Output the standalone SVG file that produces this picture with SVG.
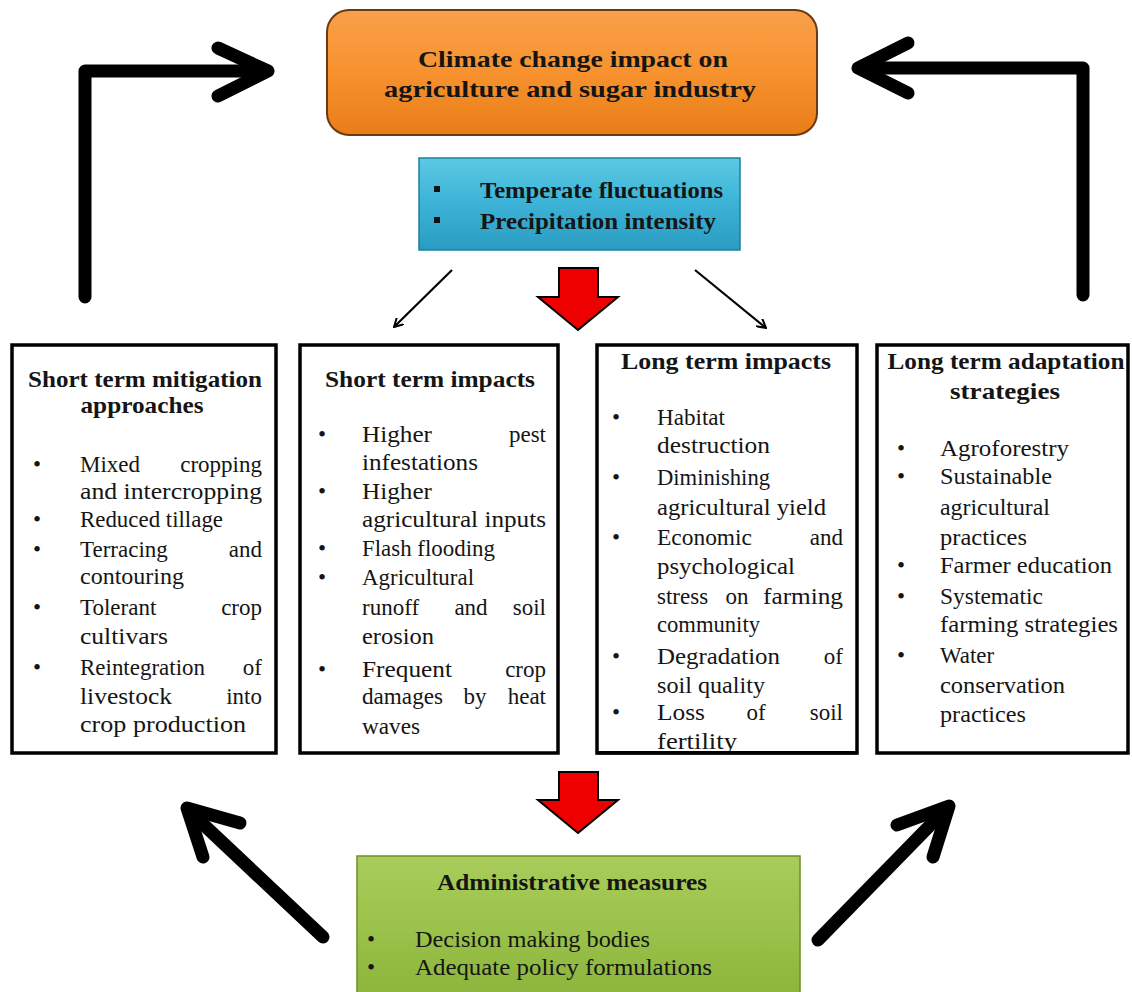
<svg xmlns="http://www.w3.org/2000/svg" width="1132" height="992" viewBox="0 0 1132 992">
<defs>
<linearGradient id="gOr" x1="0" y1="0" x2="0" y2="1">
<stop offset="0" stop-color="#f9a04a"/><stop offset="0.5" stop-color="#f7922e"/><stop offset="1" stop-color="#e87d18"/>
</linearGradient>
<linearGradient id="gBl" x1="0" y1="0" x2="0" y2="1">
<stop offset="0" stop-color="#5cc9e4"/><stop offset="0.5" stop-color="#3bb3d6"/><stop offset="1" stop-color="#2a9cc2"/>
</linearGradient>
<linearGradient id="gGr" x1="0" y1="0" x2="0" y2="1">
<stop offset="0" stop-color="#a9cc5a"/><stop offset="0.5" stop-color="#9bc24a"/><stop offset="1" stop-color="#8ab43b"/>
</linearGradient>
<marker id="thin" markerWidth="10" markerHeight="10" refX="9" refY="5" orient="auto" markerUnits="userSpaceOnUse">
<path d="M0,0 L9,5 L0,10" fill="none" stroke="#000" stroke-width="2"/>
</marker>
<style>
.t{font-family:"Liberation Serif","Times New Roman",serif;font-size:23px;fill:#151515}
.b{font-weight:bold}
.box{fill:#fff;stroke:#000;stroke-width:3.5}
.big{fill:none;stroke:#000;stroke-width:13;stroke-linecap:round;stroke-linejoin:round}
.red{fill:#ee0000;stroke:#000;stroke-width:2;stroke-linejoin:miter}
</style>
</defs>
<rect width="1132" height="992" fill="#fff"/>

<g id="connectors">
<path class="big" d="M85,297 V71 H266"/>
<path class="big" d="M218,48 L268,71 L218,96"/>
<path class="big" d="M1083,295 V68 H860"/>
<path class="big" d="M908,43 L858,68 L908,93"/>
<path class="big" d="M323,937 L188,810"/>
<path class="big" d="M240,823 L187,808 L203,857"/>
<path class="big" d="M818,940 L947,808"/>
<path class="big" d="M897,825 L949,806 L933,857"/>
<line x1="452" y1="270" x2="394" y2="327" stroke="#000" stroke-width="2.2" marker-end="url(#thin)"/>
<line x1="695" y1="270" x2="766" y2="328" stroke="#000" stroke-width="2.2" marker-end="url(#thin)"/>
<path class="red" d="M559,268 H598 V297 H618 L578,330 L538,297 H559 Z"/>
<path class="red" d="M559,772 H598 V800 H618 L578,833 L538,800 H559 Z"/>
</g>

<g id="climate">
<rect x="327" y="10" width="490" height="125" rx="22" fill="url(#gOr)" stroke="#6b3a10" stroke-width="2"/>
<text class="t b" x="573" y="67" text-anchor="middle" font-size="26" textLength="310" lengthAdjust="spacingAndGlyphs">Climate change impact on</text>
<text class="t b" x="570" y="97" text-anchor="middle" font-size="26" textLength="372" lengthAdjust="spacingAndGlyphs">agriculture and sugar industry</text>
</g>

<g id="factors">
<rect x="419" y="158" width="321" height="92" fill="url(#gBl)" stroke="#1f7e9e" stroke-width="1.5"/>
<rect x="434" y="186" width="6" height="6" fill="#111"/>
<rect x="434" y="217" width="6" height="6" fill="#111"/>
<text class="t b" x="480" y="198" textLength="243" lengthAdjust="spacingAndGlyphs">Temperate fluctuations</text>
<text class="t b" x="480" y="229" textLength="236" lengthAdjust="spacingAndGlyphs">Precipitation intensity</text>
</g>

<g id="mitigation">
<rect class="box" x="12" y="345" width="264" height="408"/>
<text class="t b" x="145" y="387" text-anchor="middle" textLength="234" lengthAdjust="spacingAndGlyphs">Short term mitigation</text>
<text class="t b" x="142" y="413" text-anchor="middle" textLength="123" lengthAdjust="spacingAndGlyphs">approaches</text>
<text class="t" x="33" y="472">•</text><text class="t" x="33" y="527">•</text><text class="t" x="33" y="557">•</text><text class="t" x="33" y="615">•</text><text class="t" x="33" y="675">•</text>
<text class="t" x="80" y="472">Mixed</text><text class="t" x="262" y="472" text-anchor="end">cropping</text>
<text class="t" x="80" y="499" textLength="182" lengthAdjust="spacingAndGlyphs">and intercropping</text>
<text class="t" x="80" y="527" textLength="143" lengthAdjust="spacingAndGlyphs">Reduced tillage</text>
<text class="t" x="80" y="557">Terracing</text><text class="t" x="262" y="557" text-anchor="end">and</text>
<text class="t" x="80" y="584" textLength="104" lengthAdjust="spacingAndGlyphs">contouring</text>
<text class="t" x="80" y="615">Tolerant</text><text class="t" x="262" y="615" text-anchor="end">crop</text>
<text class="t" x="80" y="644" textLength="88" lengthAdjust="spacingAndGlyphs">cultivars</text>
<text class="t" x="80" y="675" textLength="125" lengthAdjust="spacingAndGlyphs">Reintegration</text><text class="t" x="262" y="675" text-anchor="end">of</text>
<text class="t" x="80" y="704" textLength="92" lengthAdjust="spacingAndGlyphs">livestock</text><text class="t" x="262" y="704" text-anchor="end">into</text>
<text class="t" x="80" y="732" textLength="166" lengthAdjust="spacingAndGlyphs">crop production</text>
</g>

<g id="short-impacts">
<rect class="box" x="300" y="345" width="258" height="408"/>
<text class="t b" x="430" y="387" text-anchor="middle" textLength="210" lengthAdjust="spacingAndGlyphs">Short term impacts</text>
<text class="t" x="318" y="442">•</text><text class="t" x="318" y="499">•</text><text class="t" x="318" y="556">•</text><text class="t" x="318" y="585">•</text><text class="t" x="318" y="677">•</text>
<text class="t" x="362" y="442" textLength="70" lengthAdjust="spacingAndGlyphs">Higher</text><text class="t" x="546" y="442" text-anchor="end">pest</text>
<text class="t" x="362" y="470" textLength="116" lengthAdjust="spacingAndGlyphs">infestations</text>
<text class="t" x="362" y="499" textLength="70" lengthAdjust="spacingAndGlyphs">Higher</text>
<text class="t" x="362" y="527" textLength="184" lengthAdjust="spacingAndGlyphs">agricultural inputs</text>
<text class="t" x="362" y="556" textLength="133" lengthAdjust="spacingAndGlyphs">Flash flooding</text>
<text class="t" x="362" y="585" textLength="112" lengthAdjust="spacingAndGlyphs">Agricultural</text>
<text class="t" x="362" y="615">runoff</text><text class="t" x="471" y="615" text-anchor="middle">and</text><text class="t" x="546" y="615" text-anchor="end">soil</text>
<text class="t" x="362" y="644" textLength="72" lengthAdjust="spacingAndGlyphs">erosion</text>
<text class="t" x="362" y="677" textLength="90" lengthAdjust="spacingAndGlyphs">Frequent</text><text class="t" x="546" y="677" text-anchor="end">crop</text>
<text class="t" x="362" y="704" textLength="81" lengthAdjust="spacingAndGlyphs">damages</text><text class="t" x="475" y="704" text-anchor="middle">by</text><text class="t" x="546" y="704" text-anchor="end">heat</text>
<text class="t" x="362" y="734" textLength="58" lengthAdjust="spacingAndGlyphs">waves</text>
</g>

<g id="long-impacts">
<rect class="box" x="597" y="345" width="260" height="408"/>
<text class="t b" x="726" y="369" text-anchor="middle" textLength="210" lengthAdjust="spacingAndGlyphs">Long term impacts</text>
<text class="t" x="612" y="425">•</text><text class="t" x="612" y="485">•</text><text class="t" x="612" y="545">•</text><text class="t" x="612" y="664">•</text><text class="t" x="612" y="720">•</text>
<text class="t" x="657" y="425" textLength="68" lengthAdjust="spacingAndGlyphs">Habitat</text>
<text class="t" x="657" y="453" textLength="113" lengthAdjust="spacingAndGlyphs">destruction</text>
<text class="t" x="657" y="485" textLength="113" lengthAdjust="spacingAndGlyphs">Diminishing</text>
<text class="t" x="657" y="515" textLength="169" lengthAdjust="spacingAndGlyphs">agricultural yield</text>
<text class="t" x="657" y="545" textLength="95" lengthAdjust="spacingAndGlyphs">Economic</text><text class="t" x="843" y="545" text-anchor="end">and</text>
<text class="t" x="657" y="574" textLength="138" lengthAdjust="spacingAndGlyphs">psychological</text>
<text class="t" x="657" y="604">stress</text><text class="t" x="737" y="604" text-anchor="middle">on</text><text class="t" x="843" y="604" text-anchor="end" textLength="80" lengthAdjust="spacingAndGlyphs">farming</text>
<text class="t" x="657" y="632" textLength="103" lengthAdjust="spacingAndGlyphs">community</text>
<text class="t" x="657" y="664" textLength="123" lengthAdjust="spacingAndGlyphs">Degradation</text><text class="t" x="843" y="664" text-anchor="end">of</text>
<text class="t" x="657" y="693" textLength="108" lengthAdjust="spacingAndGlyphs">soil quality</text>
<text class="t" x="657" y="720" textLength="48" lengthAdjust="spacingAndGlyphs">Loss</text><text class="t" x="756" y="720" text-anchor="middle">of</text><text class="t" x="843" y="720" text-anchor="end">soil</text>
<text class="t" x="657" y="749" textLength="80" lengthAdjust="spacingAndGlyphs">fertility</text>
<rect x="597" y="751" width="260" height="3.5" fill="#000"/>
</g>

<g id="adaptation">
<rect class="box" x="877" y="345" width="251" height="408"/>
<text class="t b" x="1006" y="369" text-anchor="middle" textLength="237" lengthAdjust="spacingAndGlyphs">Long term adaptation</text>
<text class="t b" x="1005" y="399" text-anchor="middle" textLength="110" lengthAdjust="spacingAndGlyphs">strategies</text>
<text class="t" x="897" y="456">•</text><text class="t" x="897" y="484">•</text><text class="t" x="897" y="573">•</text><text class="t" x="897" y="604">•</text><text class="t" x="897" y="663">•</text>
<text class="t" x="940" y="456" textLength="129" lengthAdjust="spacingAndGlyphs">Agroforestry</text>
<text class="t" x="940" y="484" textLength="112" lengthAdjust="spacingAndGlyphs">Sustainable</text>
<text class="t" x="940" y="515" textLength="110" lengthAdjust="spacingAndGlyphs">agricultural</text>
<text class="t" x="940" y="545" textLength="87" lengthAdjust="spacingAndGlyphs">practices</text>
<text class="t" x="940" y="573" textLength="172" lengthAdjust="spacingAndGlyphs">Farmer education</text>
<text class="t" x="940" y="604" textLength="103" lengthAdjust="spacingAndGlyphs">Systematic</text>
<text class="t" x="940" y="632" textLength="178" lengthAdjust="spacingAndGlyphs">farming strategies</text>
<text class="t" x="940" y="663" textLength="54" lengthAdjust="spacingAndGlyphs">Water</text>
<text class="t" x="940" y="693" textLength="125" lengthAdjust="spacingAndGlyphs">conservation</text>
<text class="t" x="940" y="722" textLength="86" lengthAdjust="spacingAndGlyphs">practices</text>
</g>

<g id="administrative">
<rect x="357" y="856" width="443" height="145" fill="url(#gGr)" stroke="#6e8f2a" stroke-width="1.5"/>
<text class="t b" x="572" y="890" text-anchor="middle" textLength="270" lengthAdjust="spacingAndGlyphs">Administrative measures</text>
<text class="t" x="367" y="947">•</text><text class="t" x="367" y="975">•</text>
<text class="t" x="415" y="947" textLength="235" lengthAdjust="spacingAndGlyphs">Decision making bodies</text>
<text class="t" x="415" y="975" textLength="297" lengthAdjust="spacingAndGlyphs">Adequate policy formulations</text>
</g>
</svg>
